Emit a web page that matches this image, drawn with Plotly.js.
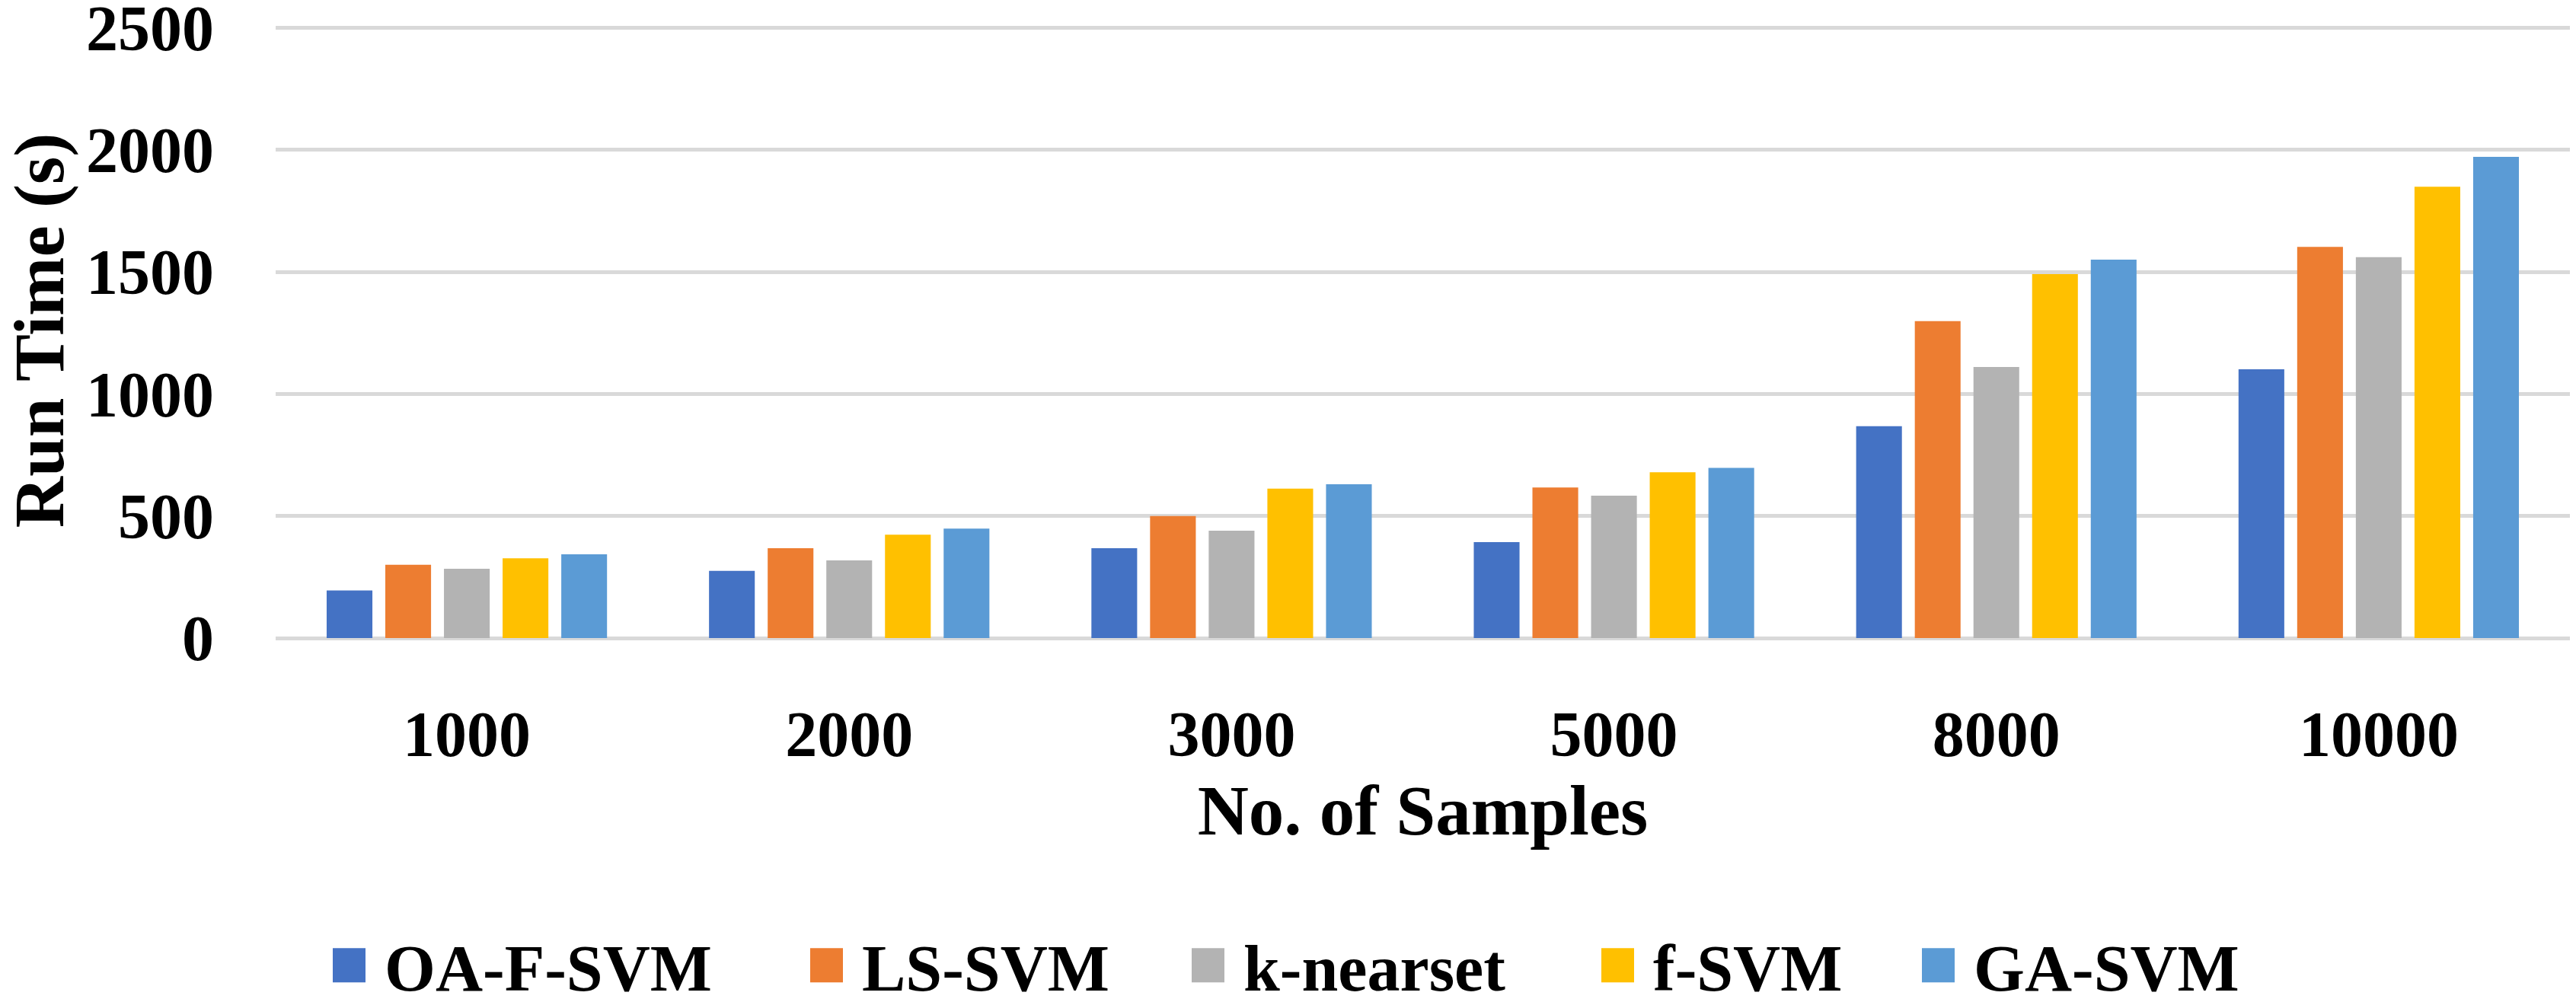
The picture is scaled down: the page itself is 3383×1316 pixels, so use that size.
<!DOCTYPE html>
<html><head><meta charset="utf-8">
<script src="https://cdn.plot.ly/plotly-3.0.1.min.js"></script>
<style>html,body{margin:0;padding:0;background:#fff;} #chart{width:3383px;height:1316px;}</style>
</head><body><div id="chart"></div>
<script>
const categories = ['1000', '2000', '3000', '5000', '8000', '10000'];
const seriesNames = ['OA-F-SVM', 'LS-SVM', 'k-nearset', 'f-SVM', 'GA-SVM'];
const oaFSvm   = [195, 275, 368, 393, 868, 1101];
const lsSvm    = [300, 368, 500, 617, 1298, 1602];
const kNearset = [284, 318, 440, 583, 1110, 1560];
const fSvm     = [327, 423, 612, 679, 1491, 1849];
const gaSvm    = [343, 448, 630, 697, 1550, 1971];
const yTickVals = [0, 500, 1000, 1500, 2000, 2500];
const xTitle = 'No. of Samples';
const yTitle = 'Run Time (s)';

const seriesValues = [oaFSvm, lsSvm, kNearset, fSvm, gaSvm];
const colors = ['#4472C4', '#ED7D31', '#B3B3B3', '#FFC000', '#5B9BD5'];
const legendWidths = [554, 428, 465, 348, null];
const FONT = '"Liberation Serif", "Times New Roman", Times, serif';

const traces = seriesNames.map((name, i) => {
  const t = {
    type: 'bar', name: name, x: categories, y: seriesValues[i],
    marker: {color: colors[i], line: {width: 0}},
    hoverinfo: 'x+y+name'
  };
  if (legendWidths[i]) t.legendwidth = legendWidths[i];
  return t;
});

const layout = {
  width: 3383, height: 1316,
  paper_bgcolor: '#ffffff', plot_bgcolor: '#ffffff',
  margin: {l: 362, r: 8, t: 29.6, b: 477.5, pad: 0},
  font: {family: FONT, color: '#000000', size: 84, weight: 'bold'},
  barmode: 'group', bargap: 0.233, bargroupgap: 0.22,
  xaxis: {
    type: 'category', showgrid: false, zeroline: false, showline: false,
    ticks: '', ticklabelstandoff: 70,
    tickfont: {family: FONT, size: 84, color: '#000', weight: 'bold'},
    title: {text: xTitle, font: {family: FONT, size: 93, color: '#000', weight: 'bold'}, standoff: 20}
  },
  yaxis: {
    range: [0, 2520], tickvals: yTickVals, showgrid: true, ticklabeloverflow: 'allow',
    gridcolor: '#D9D9D9', gridwidth: 5, zeroline: true, zerolinecolor: '#D9D9D9', zerolinewidth: 5,
    showline: false, ticks: '', ticklabelstandoff: 80,
    tickfont: {family: FONT, size: 84, color: '#000', weight: 'bold'},
    title: {text: yTitle, font: {family: FONT, size: 93, color: '#000', weight: 'bold'}, standoff: 30}
  },
  showlegend: true,
  legend: {
    orientation: 'h', xref: 'container', yref: 'container', x: 0.5, xanchor: 'center',
    y: 0.037, yanchor: 'middle', itemwidth: 58, traceorder: 'normal',
    font: {family: FONT, size: 86, color: '#000', weight: 'bold'},
    bgcolor: 'rgba(0,0,0,0)'
  }
};

Plotly.newPlot('chart', traces, layout, {displayModeBar: false, staticPlot: true}).then(gd => {
  // enlarge the legend colour keys to match the reference square size
  gd.querySelectorAll('.legend .traces').forEach(tr => {
    const path = tr.querySelector('.legendpoints path');
    const text = tr.querySelector('text.legendtext');
    if (!path || !text) return;
    const tx = parseFloat(text.getAttribute('x')) || 0;
    const trM = tr.getCTM();
    const pM = path.getCTM();
    const m = pM.inverse().multiply(trM);
    const toLocal = (x, y) => new DOMPoint(x, y).matrixTransform(m);
    const a = toLocal(tx - 25 - 43, -22);
    const b = toLocal(tx - 25, 23);
    path.setAttribute('d', `M${a.x},${a.y}H${b.x}V${b.y}H${a.x}Z`);
  });
});
</script>
</body></html>
